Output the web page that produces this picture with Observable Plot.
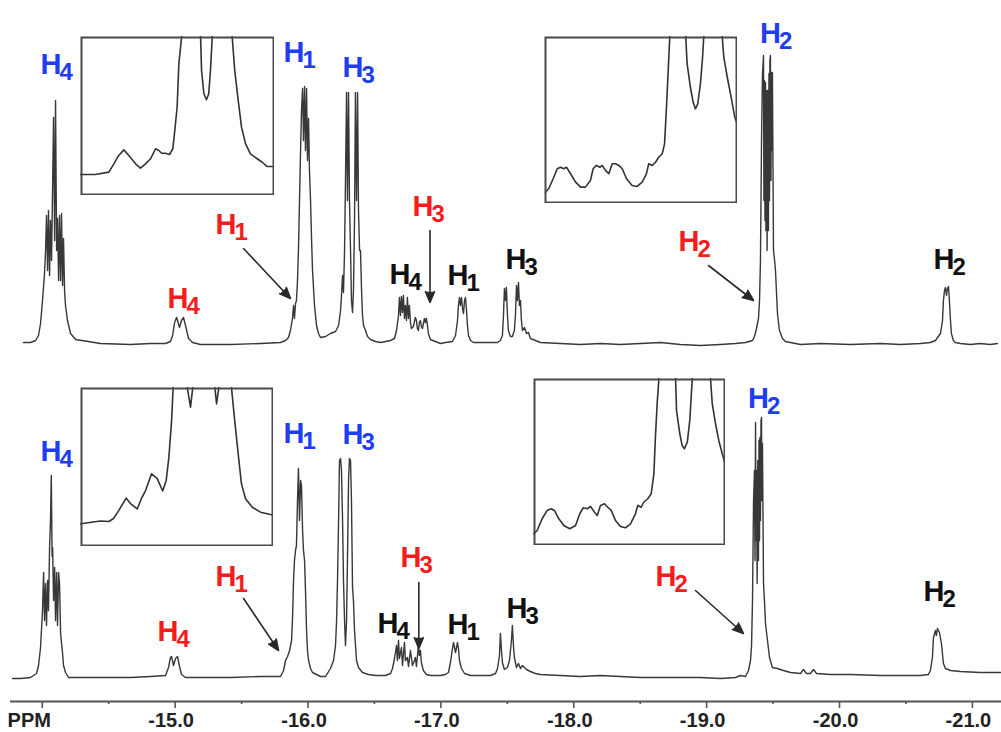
<!DOCTYPE html>
<html><head><meta charset="utf-8">
<script src="https://cdn.jsdelivr.net/npm/d3@7"></script>
<script src="https://cdn.jsdelivr.net/npm/@observablehq/plot@0.6"></script>
<style>
body{margin:0;background:#fff;}
#wrap{position:relative;width:1001px;height:732px;overflow:hidden;background:#fff;}
.inset{position:absolute;}
</style></head><body><div id="wrap"></div>
<script>
// ---------- DATA ----------
// upper spectrum: [chemical shift (ppm), intensity]
const topSpectrum = [
[-13.859,1],[-13.912,1],[-13.950,3],[-13.972,8],[-13.987,20],[-14.002,43],[-14.017,70],[-14.025,93],[-14.032,128],[-14.040,73],
[-14.047,133],[-14.055,68],[-14.062,123],[-14.070,83],[-14.085,226],[-14.093,103],[-14.100,243],[-14.108,93],[-14.115,125],[-14.123,63],
[-14.130,128],[-14.138,63],[-14.145,130],[-14.153,58],[-14.160,105],[-14.168,53],[-14.175,38],[-14.190,23],[-14.213,10],[-14.251,4],
[-14.439,0],[-14.664,-1],[-14.815,0],[-14.928,0],[-14.965,2],[-14.981,8],[-14.996,21],[-15.011,26],[-15.018,23],[-15.033,16],
[-15.048,23],[-15.063,26],[-15.078,18],[-15.101,5],[-15.131,1],[-15.191,-1],[-15.417,-1],[-15.643,0],[-15.793,1],[-15.831,3],
[-15.853,6],[-15.868,13],[-15.883,25],[-15.891,38],[-15.898,25],[-15.906,40],[-15.913,43],[-15.921,63],[-15.928,93],[-15.936,143],
[-15.944,193],[-15.951,233],[-15.959,255],[-15.966,203],[-15.974,257],[-15.981,193],[-15.989,255],[-15.996,183],[-16.004,225],[-16.011,173],
[-16.019,143],[-16.027,103],[-16.034,73],[-16.049,38],[-16.064,18],[-16.079,10],[-16.094,6],[-16.132,7],[-16.169,10],[-16.207,12],
[-16.230,18],[-16.245,33],[-16.252,48],[-16.260,68],[-16.267,51],[-16.275,93],[-16.282,163],[-16.290,251],[-16.297,143],[-16.305,251],
[-16.312,143],[-16.320,93],[-16.327,43],[-16.335,31],[-16.342,53],[-16.350,123],[-16.357,251],[-16.365,143],[-16.373,251],[-16.380,133],
[-16.388,93],[-16.395,93],[-16.403,53],[-16.410,28],[-16.418,18],[-16.433,13],[-16.448,7],[-16.470,4],[-16.508,2],[-16.546,1],
[-16.621,3],[-16.651,5],[-16.666,13],[-16.681,28],[-16.688,46],[-16.696,28],[-16.703,47],[-16.711,31],[-16.718,48],[-16.726,25],
[-16.733,38],[-16.741,23],[-16.748,46],[-16.756,25],[-16.763,38],[-16.771,21],[-16.778,15],[-16.793,17],[-16.808,26],[-16.816,23],
[-16.823,15],[-16.831,13],[-16.838,21],[-16.846,23],[-16.853,17],[-16.861,15],[-16.876,25],[-16.884,21],[-16.891,25],[-16.899,18],
[-16.906,10],[-16.921,4],[-16.959,2],[-16.997,0],[-17.034,1],[-17.087,2],[-17.110,8],[-17.125,23],[-17.132,38],[-17.140,46],
[-17.147,38],[-17.155,46],[-17.163,35],[-17.170,30],[-17.178,43],[-17.185,46],[-17.193,33],[-17.200,18],[-17.208,8],[-17.223,3],
[-17.245,1],[-17.298,1],[-17.373,1],[-17.426,1],[-17.448,3],[-17.463,8],[-17.471,28],[-17.478,55],[-17.486,43],[-17.493,56],
[-17.501,28],[-17.508,13],[-17.523,7],[-17.538,7],[-17.553,13],[-17.561,28],[-17.569,58],[-17.576,43],[-17.584,61],[-17.591,38],
[-17.599,43],[-17.606,23],[-17.614,13],[-17.629,16],[-17.644,10],[-17.659,11],[-17.674,5],[-17.711,3],[-17.749,1],[-17.900,0],
[-18.050,-1],[-18.201,0],[-18.351,-1],[-18.502,0],[-18.652,1],[-18.803,-1],[-18.953,-2],[-19.104,-1],[-19.217,0],[-19.292,1],
[-19.345,3],[-19.360,7],[-19.375,15],[-19.390,25],[-19.398,43],[-19.405,83],[-19.413,203],[-19.420,268],[-19.428,288],[-19.431,143],
[-19.435,263],[-19.439,123],[-19.443,261],[-19.446,113],[-19.450,253],[-19.455,93],[-19.460,253],[-19.465,113],[-19.469,270],[-19.473,143],
[-19.476,283],[-19.480,288],[-19.484,163],[-19.488,271],[-19.493,193],[-19.495,271],[-19.503,93],[-19.510,85],[-19.518,73],[-19.533,30],
[-19.548,13],[-19.571,5],[-19.593,2],[-19.631,1],[-19.706,-1],[-19.857,0],[-20.082,-1],[-20.308,0],[-20.459,-1],[-20.609,0],
[-20.684,1],[-20.722,3],[-20.760,10],[-20.775,23],[-20.782,43],[-20.790,53],[-20.797,56],[-20.805,48],[-20.812,55],[-20.820,57],
[-20.827,43],[-20.835,23],[-20.842,10],[-20.857,3],[-20.872,1],[-20.910,0],[-20.985,-1],[-21.060,0],[-21.135,-1],[-21.188,0]
];
// lower spectrum: [chemical shift (ppm), intensity]
const bottomSpectrum = [
[-13.777,-2],[-13.837,-2],[-13.912,-1],[-13.957,3],[-13.972,11],[-13.987,29],[-14.002,66],[-14.010,104],[-14.017,56],[-14.025,93],
[-14.032,51],[-14.040,96],[-14.047,66],[-14.055,129],[-14.062,156],[-14.068,201],[-14.074,120],[-14.078,129],[-14.085,76],[-14.093,109],
[-14.100,56],[-14.108,104],[-14.115,51],[-14.123,104],[-14.130,93],[-14.138,43],[-14.153,23],[-14.160,11],[-14.175,4],[-14.198,-1],
[-14.251,-1],[-14.439,-1],[-14.664,-1],[-14.815,0],[-14.928,1],[-14.950,9],[-14.965,19],[-14.973,20],[-14.988,11],[-15.003,18],
[-15.018,20],[-15.033,10],[-15.048,2],[-15.078,-1],[-15.191,-1],[-15.417,-1],[-15.643,0],[-15.793,0],[-15.816,6],[-15.831,16],
[-15.846,20],[-15.861,26],[-15.876,36],[-15.883,56],[-15.891,96],[-15.898,116],[-15.906,126],[-15.913,131],[-15.921,176],[-15.928,208],
[-15.936,156],[-15.944,196],[-15.951,191],[-15.959,146],[-15.966,126],[-15.974,116],[-15.981,86],[-15.989,46],[-15.996,26],[-16.004,16],
[-16.019,8],[-16.034,4],[-16.064,2],[-16.094,0],[-16.132,0],[-16.169,8],[-16.192,16],[-16.207,31],[-16.215,56],[-16.222,96],
[-16.230,156],[-16.237,216],[-16.245,218],[-16.252,206],[-16.260,156],[-16.267,96],[-16.275,56],[-16.282,31],[-16.290,56],[-16.297,116],
[-16.305,196],[-16.312,218],[-16.320,216],[-16.327,176],[-16.335,89],[-16.342,76],[-16.350,46],[-16.365,16],[-16.380,9],[-16.410,4],
[-16.455,2],[-16.508,1],[-16.583,1],[-16.621,3],[-16.636,8],[-16.651,18],[-16.666,31],[-16.673,16],[-16.681,36],[-16.688,18],
[-16.703,29],[-16.711,11],[-16.726,34],[-16.733,16],[-16.748,19],[-16.756,10],[-16.771,26],[-16.786,11],[-16.801,16],[-16.808,19],
[-16.816,10],[-16.831,31],[-16.838,21],[-16.846,26],[-16.853,14],[-16.868,6],[-16.891,2],[-16.921,1],[-16.997,1],[-17.034,2],
[-17.057,4],[-17.072,14],[-17.087,28],[-17.095,34],[-17.110,24],[-17.125,34],[-17.132,28],[-17.140,16],[-17.155,8],[-17.178,3],
[-17.223,1],[-17.298,1],[-17.373,1],[-17.411,3],[-17.426,8],[-17.441,21],[-17.448,43],[-17.456,26],[-17.463,14],[-17.478,7],
[-17.501,9],[-17.516,16],[-17.531,36],[-17.538,51],[-17.546,31],[-17.553,19],[-17.569,9],[-17.584,13],[-17.599,8],[-17.614,11],
[-17.644,7],[-17.674,5],[-17.711,3],[-17.749,2],[-17.900,1],[-18.050,0],[-18.201,1],[-18.351,0],[-18.502,-1],[-18.652,-1],
[-18.803,-1],[-18.953,-1],[-19.104,-2],[-19.217,-1],[-19.254,1],[-19.292,0],[-19.315,6],[-19.330,16],[-19.338,31],[-19.345,76],
[-19.353,176],[-19.360,206],[-19.364,116],[-19.368,254],[-19.371,136],[-19.375,206],[-19.380,93],[-19.385,216],[-19.390,116],[-19.394,236],
[-19.398,136],[-19.401,239],[-19.405,156],[-19.409,256],[-19.413,259],[-19.416,176],[-19.420,233],[-19.428,93],[-19.435,76],[-19.443,53],
[-19.458,36],[-19.473,19],[-19.495,9],[-19.533,8],[-19.578,6],[-19.631,4],[-19.706,3],[-19.729,7],[-19.751,3],[-19.781,3],
[-19.804,7],[-19.827,3],[-19.932,2],[-20.082,2],[-20.308,1],[-20.459,1],[-20.609,1],[-20.669,2],[-20.684,6],[-20.699,19],
[-20.707,39],[-20.722,46],[-20.729,41],[-20.737,48],[-20.752,44],[-20.767,33],[-20.782,13],[-20.797,8],[-20.835,6],[-20.910,5],
[-21.060,4],[-21.211,4]
];
// axis ticks (ppm)
const majorTicks = [-14, -15, -16, -17, -18, -19, -20, -21];
const minorTicks = [-14.5, -15.5, -16.5, -17.5, -18.5, -19.5, -20.5];
const axisUnit = ["PPM"];
// peak labels: panel, kind, subscript, ppm, height
const labelPanel = ["top","top","top","top","top","top","top","top","top","top","top","top",
  "bottom","bottom","bottom","bottom","bottom","bottom","bottom","bottom","bottom","bottom","bottom","bottom"];
const labelKind = ["major","major","major","major","minor","minor","minor","minor","other","other","other","other",
  "major","major","major","major","minor","minor","minor","minor","other","other","other","other"];
const labelSub = ["4","1","3","2","1","4","3","2","4","1","3","2", "4","1","3","2","1","4","3","2","4","1","3","2"];
const labelPpm = [-13.987,-15.816,-16.260,-19.401,-15.304,-14.943,-16.786,-18.788,-16.613,-17.050,-17.486,-20.707,
  -13.987,-15.816,-16.260,-19.311,-15.304,-14.868,-16.696,-18.615,-16.523,-17.050,-17.493,-20.632];
const labelHeight = [270,282,267,301,110,36,128,93,60,59,75,75, 216,234,233,269,91,36,110,91,44,43,59,76];
// arrows: panel, from (ppm, height) to (ppm, height)
const arrowPanel = ["top","top","top","bottom","bottom","bottom"];
const arrowPpm1 = [-15.515,-16.918,-19.014,-15.515,-16.834,-18.916];
const arrowH1 = [95,113,78,78,94,86];
const arrowPpm2 = [-15.868,-16.918,-19.353,-15.778,-16.834,-19.277];
const arrowH2 = [45,41,43,26,28,43];
// inset expansions (relative shift 0-100, relative intensity 0-100)
const insetTopLeft = [[0,13.2],[7.7,13.2],[14.6,14.7],[17.2,19.9],[19.7,25.2],[22.3,28.7],[24.9,25.2],[28.4,19.9],[30.9,17.2],[33.5,19.9],
 [36.1,23.1],[38.7,29.4],[40.4,28.3],[41.8,26.6],[43.8,26.6],[45.9,25.8],[47.6,29.4],[48.6,40.9],[49.8,55.5],[50.7,82.8],[52.1,99.6],
 [53.1,116],[56.7,154],[61.3,116],[61.9,99.6],[62.4,78.6],[63.6,64],[64.9,60.2],[66.1,64],[67.0,78.6],[67.9,99.6],[68.6,116],[73.2,154],
 [77.3,116],[78.2,99.6],[79.5,78.6],[81.3,59.7],[83.0,43.0],[85.1,32.5],[87.6,26.2],[91.1,23.1],[93.7,20.9],[96.2,18.2],[98.8,18.2],[100,18.2]];
const insetTopRight = [[0.5,6.8],[2.2,8.8],[4.8,15.7],[6.6,20.8],[8.3,21.7],[10.0,20.8],[11.4,21.7],[13.5,17.8],[16.1,12.8],[18.7,9.8],
 [21.2,9.8],[23.8,13.8],[25.2,20.8],[26.9,22.8],[28.7,21.7],[29.9,22.8],[31.6,19.8],[33.3,17.8],[35.1,23.8],[36.8,23.8],[38.5,22.8],
 [40.3,20.8],[42.5,14.8],[45.4,10.8],[48.0,10.2],[50.6,12.8],[52.8,17.8],[54.0,23.8],[55.8,22.8],[57.5,24.7],[59.2,27.7],[61.0,29.8],
 [62.2,35.7],[63.2,57.7],[64.1,79.6],[64.9,99.6],[65.8,115.6],[69.4,151.5],[72.5,115.6],[73.2,99.6],[73.9,83.7],[75.6,69.6],[77.0,60.7],
 [78.2,56.7],[79.4,59.7],[80.8,71.7],[81.9,87.6],[82.5,99.6],[83.4,115.6],[87.6,151.5],[91.2,115.6],[92.1,99.6],[92.9,87.6],[94.7,75.6],
 [96.7,63.7],[98.6,51.7],[99.8,47.7]];
const insetBottomLeft = [[0,14.3],[10.4,16.0],[14.7,15.7],[17.1,17.6],[19.8,22.6],[23.7,30.4],[25.9,27.0],[29.4,23.6],[31.6,30.2],[33.7,35.2],
 [36.8,45.7],[39.7,42.8],[42.6,34.9],[44.4,41.5],[45.8,56.2],[47.2,79.2],[48.0,100.2],[48.7,110.7],[51.8,129.6],[54.9,110.7],[55.3,100.2],
 [57.0,87.6],[58.2,100.2],[59.1,110.7],[64.2,129.6],[68.9,110.7],[69.6,100.2],[70.5,89.7],[71.7,100.2],[72.5,110.7],[75.6,129.6],
 [77.7,110.7],[78.2,100.2],[79.9,79.2],[81.7,58.3],[83.4,39.4],[85.5,30.0],[89.0,24.7],[93.3,21.6],[98.4,20.1],[100,19.8]];
const insetBottomRight = [[0.2,7.0],[1.9,9.0],[4.5,16.0],[7.1,21.0],[9.2,22.0],[10.9,21.0],[13.2,16.0],[15.8,12.0],[18.9,10.0],[21.9,12.0],
 [24.1,19.0],[25.9,22.6],[28.0,22.0],[29.7,23.4],[31.8,19.9],[33.2,18.0],[34.9,24.0],[37.0,25.0],[38.7,22.9],[40.5,21.0],[42.7,15.0],
 [45.3,11.4],[47.9,10.6],[50.5,13.0],[53.1,19.0],[54.3,24.0],[56.1,22.9],[57.4,25.9],[59.5,28.0],[61.3,31.0],[62.7,42.9],[63.5,64.9],
 [64.4,84.9],[65.3,99.8],[66.1,110.8],[69.8,134.7],[72.9,110.8],[74.0,99.8],[74.5,80.8],[76.2,66.9],[77.4,59.9],[78.6,57.9],[80.1,61.9],
 [81.4,74.9],[82.7,99.8],[83.3,110.8],[87.0,134.7],[91.1,110.8],[92.2,99.8],[93.1,84.9],[94.8,72.9],[96.5,62.9],[98.3,54.9],[99.6,49.9]];

// ---------- LAYOUT / STYLE ----------
const OFFSET = {top: 358, bottom: 25};
const KIND_COLOR = {major: "#1f3df2", minor: "#f51c1c", other: "#111111"};
const FONT = "'Liberation Sans Narrow', 'Arial Narrow', 'Liberation Sans', Arial, sans-serif";
const AXFONT = "'Liberation Sans', Arial, sans-serif";

const spectra = [
  ...topSpectrum.map(([ppm, v]) => ({panel: "top", ppm, y: OFFSET.top + v})),
  ...bottomSpectrum.map(([ppm, v]) => ({panel: "bottom", ppm, y: OFFSET.bottom + v}))
];
const labels = labelPanel.map((p, i) => ({panel: p, kind: labelKind[i], sub: labelSub[i], ppm: labelPpm[i], y: OFFSET[p] + labelHeight[i]}));
const arrows = arrowPanel.map((p, i) => ({x1: arrowPpm1[i], y1: OFFSET[p] + arrowH1[i], x2: arrowPpm2[i], y2: OFFSET[p] + arrowH2[i]}));

const wrap = document.getElementById("wrap");
const main = Plot.plot({
  width: 1001, height: 732,
  marginLeft: 10, marginRight: 0, marginTop: 0, marginBottom: 31,
  x: {domain: [-13.761, -21.219], label: null},
  y: {domain: [0, 701], axis: null},
  style: {background: "#fff", overflow: "visible"},
  marks: [
    Plot.line(spectra, {x: "ppm", y: "y", z: "panel", stroke: "#383838", strokeWidth: 1.4, curve: "linear"}),
    Plot.ruleY([0], {stroke: "#555", strokeWidth: 2.2}),
    Plot.axisX({ticks: majorTicks, tickSize: 7, text: null, stroke: "#555", strokeWidth: 1.6}),
    Plot.axisX({ticks: minorTicks, tickSize: 3, text: null, stroke: "#555", strokeWidth: 1.6}),
    Plot.axisX({ticks: majorTicks, tickSize: 0, tickPadding: 11, dx: -4,
      tickFormat: d => d === -14 ? "" : d.toFixed(1),
      fontSize: 20, fontWeight: "bold", fontFamily: AXFONT, fill: "#222"}),
    Plot.text(axisUnit, {x: () => -14, y: () => 0, text: d => d, dy: 19, dx: -13,
      fontSize: 20, fontWeight: "bold", fontFamily: AXFONT, fill: "#222"}),
    Plot.arrow(arrows, {x1: "x1", y1: "y1", x2: "x2", y2: "y2", stroke: "#2a2a2a", fill: "#2a2a2a",
      strokeWidth: 1.6, headLength: 11, headAngle: 45}),
    Plot.text(labels, {x: "ppm", y: "y", text: () => "H", fill: d => KIND_COLOR[d.kind],
      fontSize: 29, fontWeight: "bold", fontFamily: FONT, textAnchor: "start", lineAnchor: "bottom"}),
    Plot.text(labels, {x: "ppm", y: "y", text: "sub", fill: d => KIND_COLOR[d.kind], dx: 19, dy: 6,
      fontSize: 24, fontWeight: "bold", fontFamily: FONT, textAnchor: "start", lineAnchor: "bottom"})
  ]
});
wrap.append(main);

function inset(points, left, top, w, h) {
  const data = points.map(([u, v]) => ({u, v}));
  const svg = Plot.plot({
    width: w, height: h, margin: 0,
    x: {domain: [0, 100], axis: null},
    y: {domain: [0, 100], axis: null},
    style: {background: "#fff"},
    marks: [
      Plot.line(data, {x: "u", y: "v", stroke: "#333", strokeWidth: 1.6, clip: true}),
      Plot.frame({stroke: "#4a4a4a", strokeWidth: 2, inset: 1})
    ]
  });
  svg.classList.add("inset");
  svg.style.left = left + "px";
  svg.style.top = top + "px";
  wrap.append(svg);
}
inset(insetTopLeft, 80, 36, 194, 159);
inset(insetTopRight, 544, 36, 193, 167);
inset(insetBottomLeft, 80, 387, 193, 159);
inset(insetBottomRight, 533, 378, 192, 167);
</script></body></html>
